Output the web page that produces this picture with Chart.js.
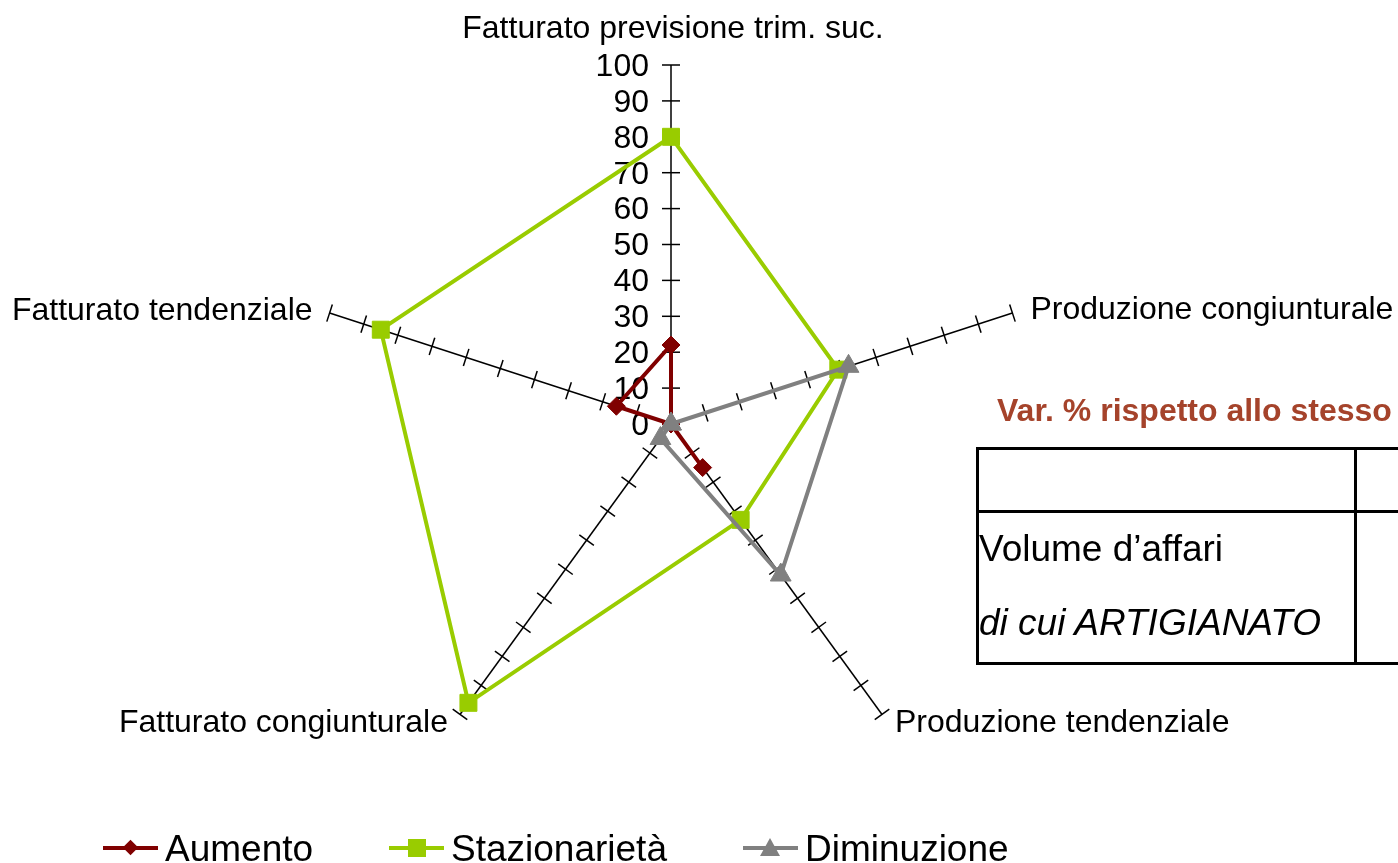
<!DOCTYPE html>
<html lang="it">
<head>
<meta charset="utf-8">
<title>Radar</title>
<script src="https://cdn.jsdelivr.net/npm/chart.js@4.4.0/dist/chart.umd.min.js"></script>
<style>
    html, body {
        margin: 0;
        padding: 0;
        background: #ffffff;
    }

    body {
        position: relative;
        width: 1398px;
        height: 863px;
        overflow: hidden;
        font-family: "Liberation Sans", Arial, sans-serif;
        color: #000000;
    }

    #grafico {
        position: absolute;
        left: 0;
        top: 0;
    }

    .titolo-laterale {
        position: absolute;
        left: 997px;
        top: 394px;
        font-size: 32px;
        line-height: 32px;
        font-weight: bold;
        color: #a5432b;
        white-space: nowrap;
    }

    .tabella {
        position: absolute;
        left: 976px;
        top: 447px;
        width: 520px;
        height: 218px;
        border: 3px solid #000000;
        box-sizing: border-box;
    }

    .tabella .riga {
        position: absolute;
        left: 0;
        right: 0;
        top: 60px;
        border-top: 3px solid #000000;
    }

    .tabella .colonna {
        position: absolute;
        top: 0;
        bottom: 0;
        left: 375px;
        border-left: 3px solid #000000;
    }

    .tabella .testo {
        position: absolute;
        left: 0;
        font-size: 37px;
        line-height: 37px;
        white-space: nowrap;
    }

    .legenda-voce {
        position: absolute;
        top: 830px;
        height: 37px;
    }

    .legenda-linea {
        position: absolute;
        top: 16px;
        width: 55px;
        height: 4px;
    }

    .legenda-testo {
        position: absolute;
        top: 0;
        font-size: 37px;
        line-height: 37px;
        white-space: nowrap;
    }

    .marker {
        position: absolute;
    }
</style>
</head>
<body>

<canvas id="grafico" width="1398" height="863"></canvas>

<div class="titolo-laterale">Var. % rispetto allo stesso</div>
<div class="tabella">
    <div class="riga"></div>
    <div class="colonna"></div>
    <div class="testo" style="top: 80px;">Volume d’affari</div>
    <div class="testo" style="top: 154px; font-style: italic;">di cui ARTIGIANATO</div>
</div>

<div id="legenda"></div>

<script>
const categorie = [
    "Fatturato previsione trim. suc.",
    "Produzione congiunturale",
    "Produzione tendenziale",
    "Fatturato congiunturale",
    "Fatturato tendenziale"
];

const aumento = [22, 0, 15, 0, 16];
const stazionarieta = [80, 49, 33, 96, 85];
const diminuzione = [0, 52, 52, 5, 0];

const etichetteScala = ["0", "10", "20", "30", "40", "50", "60", "70", "80", "90", "100"];

const FONT = "\"Liberation Sans\", Arial, sans-serif";

// etichette degli assi: allineamento e spostamento dal fondo dell'asse
const posEtichette = [
    { align: "center", baseline: "alphabetic", dx: 2, dy: -27 },
    { align: "left", baseline: "middle", dx: 18, dy: -3 },
    { align: "left", baseline: "middle", dx: 13, dy: 9 },
    { align: "right", baseline: "middle", dx: -12, dy: 9 },
    { align: "right", baseline: "middle", dx: -17, dy: -2 }
];

const assiRadar = {
    id: "assiRadar",
    beforeDatasetsDraw(chart) {
        const scala = chart.scales.r;
        const ctx = chart.ctx;
        const raggio = scala.drawingArea;

        ctx.save();

        // tacche perpendicolari su ogni asse
        ctx.strokeStyle = "#000000";
        ctx.lineWidth = 1.5;
        for (let i = 0; i < categorie.length; i++) {
            etichetteScala.forEach(function (et) {
                const valore = Number(et);
                if (valore === 0) {
                    return;
                }
                const d = scala.getDistanceFromCenterForValue(valore);
                const p = scala.getPointPosition(i, d);
                const px = -Math.sin(p.angle) * 9;
                const py = Math.cos(p.angle) * 9;
                ctx.beginPath();
                ctx.moveTo(p.x - px, p.y - py);
                ctx.lineTo(p.x + px, p.y + py);
                ctx.stroke();
            });
        }

        // valori della scala sull'asse verticale
        ctx.fillStyle = "#000000";
        ctx.font = "32px " + FONT;
        ctx.textAlign = "right";
        ctx.textBaseline = "middle";
        etichetteScala.forEach(function (et) {
            const d = scala.getDistanceFromCenterForValue(Number(et));
            const p = scala.getPointPosition(0, d);
            ctx.fillText(et, p.x - 22, p.y + 2);
        });

        // nomi degli assi
        categorie.forEach(function (nome, i) {
            const p = scala.getPointPosition(i, raggio);
            const cfg = posEtichette[i];
            ctx.textAlign = cfg.align;
            ctx.textBaseline = cfg.baseline;
            ctx.fillText(nome, p.x + cfg.dx, p.y + cfg.dy);
        });

        ctx.restore();
    }
};

const grafico = new Chart(document.getElementById("grafico"), {
    type: "radar",
    data: {
        labels: categorie,
        datasets: [
            {
                label: "Aumento",
                data: aumento,
                borderColor: "#800000",
                backgroundColor: "#800000",
                borderWidth: 4,
                pointBackgroundColor: "#800000",
                pointBorderColor: "#800000",
                pointBorderWidth: 1,
                pointStyle: "rectRot",
                pointRadius: 9,
                order: 2
            },
            {
                label: "Stazionarietà",
                data: stazionarieta,
                borderColor: "#99cc00",
                backgroundColor: "#99cc00",
                borderWidth: 4,
                pointBackgroundColor: "#99cc00",
                pointBorderColor: "#99cc00",
                pointBorderWidth: 1,
                pointStyle: "rect",
                pointRadius: 12,
                order: 1
            },
            {
                label: "Diminuzione",
                data: diminuzione,
                borderColor: "#808080",
                backgroundColor: "#808080",
                borderWidth: 4,
                pointBackgroundColor: "#808080",
                pointBorderColor: "#808080",
                pointBorderWidth: 1,
                pointStyle: "triangle",
                pointRadius: 12,
                order: 0
            }
        ]
    },
    options: {
        responsive: false,
        animation: false,
        layout: {
            padding: { left: 312, top: 65, right: 368, bottom: 80 }
        },
        elements: {
            line: { fill: false, tension: 0 },
            point: { hoverRadius: 0 }
        },
        scales: {
            r: {
                min: 0,
                max: 100,
                ticks: { stepSize: 10, display: false },
                grid: { display: false },
                angleLines: { display: true, color: "#000000", lineWidth: 1.5 },
                pointLabels: { display: false }
            }
        },
        plugins: {
            legend: { display: false },
            tooltip: { enabled: false }
        }
    },
    plugins: [assiRadar]
});

// legenda in basso
const legenda = document.getElementById("legenda");
const vociLegenda = [
    { nome: "Aumento", colore: "#800000", forma: "rombo", x: 103 },
    { nome: "Stazionarietà", colore: "#99cc00", forma: "quadrato", x: 389 },
    { nome: "Diminuzione", colore: "#808080", forma: "triangolo", x: 743 }
];

vociLegenda.forEach(function (voce) {
    const el = document.createElement("div");
    el.className = "legenda-voce";
    el.style.left = voce.x + "px";

    const linea = document.createElement("div");
    linea.className = "legenda-linea";
    linea.style.left = "0px";
    linea.style.background = voce.colore;
    el.appendChild(linea);

    const m = document.createElement("div");
    m.className = "marker";
    if (voce.forma === "rombo") {
        m.style.width = "11px";
        m.style.height = "11px";
        m.style.left = "22px";
        m.style.top = "12px";
        m.style.background = voce.colore;
        m.style.transform = "rotate(45deg)";
    } else if (voce.forma === "quadrato") {
        m.style.width = "18px";
        m.style.height = "18px";
        m.style.left = "19px";
        m.style.top = "9px";
        m.style.background = voce.colore;
    } else {
        m.style.width = "0";
        m.style.height = "0";
        m.style.left = "17px";
        m.style.top = "8px";
        m.style.borderLeft = "10px solid transparent";
        m.style.borderRight = "10px solid transparent";
        m.style.borderBottom = "18px solid " + voce.colore;
    }
    el.appendChild(m);

    const testo = document.createElement("div");
    testo.className = "legenda-testo";
    testo.style.left = "62px";
    testo.textContent = voce.nome;
    el.appendChild(testo);

    legenda.appendChild(el);
});
</script>
</body>
</html>
